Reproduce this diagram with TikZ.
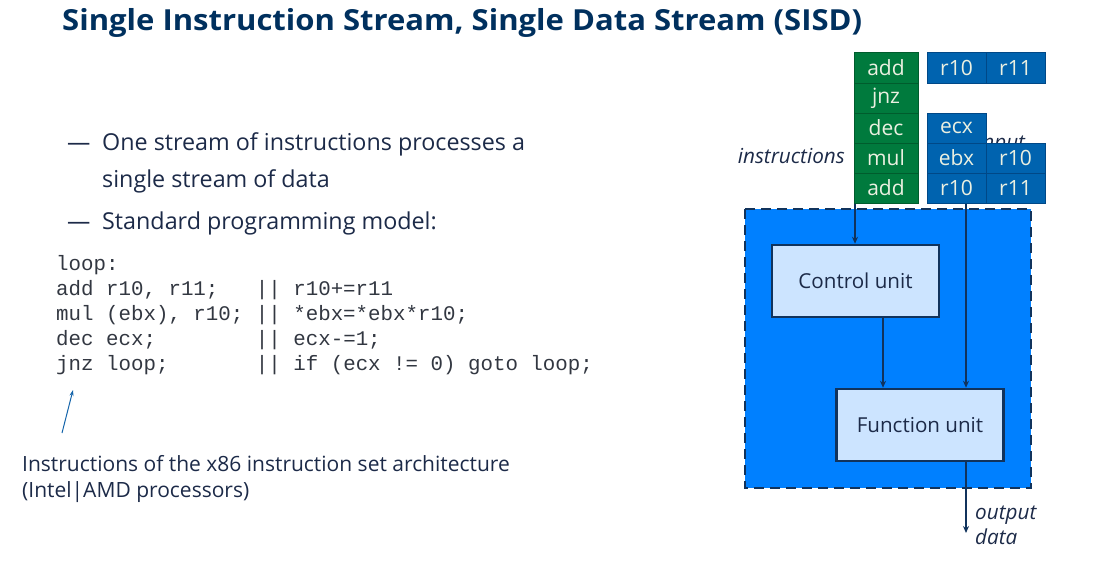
\documentclass[tikz,border=0pt]{standalone}
\usepackage{fontspec}
\setmainfont{Open Sans}
\setmonofont{Liberation Mono}
\usetikzlibrary{arrows.meta,calc}
\definecolor{navy}{RGB}{0,48,94}
\definecolor{ink}{RGB}{28,42,72}
\definecolor{codeink}{RGB}{50,55,65}
\definecolor{instgreen}{RGB}{0,122,61}
\definecolor{instedge}{RGB}{0,92,45}
\definecolor{regblue}{RGB}{0,99,175}
\definecolor{regedge}{RGB}{0,72,135}
\definecolor{cpublue}{RGB}{0,128,255}
\definecolor{unitfill}{RGB}{204,228,255}
\definecolor{lineblue}{RGB}{17,51,92}
\definecolor{notearrow}{RGB}{20,100,170}
\definecolor{celltext}{RGB}{235,240,225}
\tikzset{
  instcell/.style={draw=instedge, line width=1pt, fill=instgreen, minimum width=64pt, minimum height=30pt, inner sep=0pt, text=celltext, font=\fontsize{21}{22}\selectfont},
  regcell/.style={draw=regedge, line width=1pt, fill=regblue, minimum width=59pt, minimum height=30pt, inner sep=0pt, text=celltext, font=\fontsize{21}{22}\selectfont},
  unitbox/.style={draw=lineblue, line width=2.5pt, fill=unitfill, minimum width=167pt, minimum height=72pt, inner sep=0pt, text=ink, font=\fontsize{20.6}{22}\selectfont},
  flow/.style={draw=lineblue, line width=1.6pt, -{Stealth[length=7pt,width=6pt]}},
  bodytext/.style={text=ink, font=\fontsize{23.3}{26}\selectfont, anchor=base west, inner sep=0pt},
  notetext/.style={text=ink, font=\fontsize{21}{24}\selectfont, anchor=base west, inner sep=0pt},
  codetext/.style={text=codeink, font=\ttfamily\fontsize{20.8}{25}\selectfont, anchor=base west, inner sep=0pt},
  labeltext/.style={text=ink, font=\itshape\fontsize{20.7}{24}\selectfont, inner sep=0pt}
}
\begin{document}
\begin{tikzpicture}[x=1pt,y=-1pt]
\useasboundingbox (0,0) rectangle (1097,586);

% heading
\node[anchor=base west, inner sep=0pt, text=navy] (title) at (62,31)
  {\scalebox{1.07}[1]{\fontsize{29}{32}\selectfont\bfseries Single Instruction Stream, Single Data Stream (SISD)}};

% bullet points
\node[bodytext] (d1) at (67,150) {—};
\node[bodytext] (b1) at (102,150) {One stream of instructions processes a};
\node[bodytext] (b1b) at (102,187) {single stream of data};
\node[bodytext] (d2) at (67,229) {—};
\node[bodytext] (b2) at (102,229) {Standard programming model:};

% assembly listing
\node[codetext] (c0) at (56,270) {loop:};
\node[codetext] (c1) at (56,295) {add r10, r11;~~~|| r10+=r11};
\node[codetext] (c2) at (56,320) {mul (ebx), r10; || *ebx=*ebx*r10;};
\node[codetext] (c3) at (56,345) {dec ecx;~~~~~~~~|| ecx-=1;};
\node[codetext] (c4) at (56,370) {jnz loop;~~~~~~~|| if (ecx != 0) goto loop;};

% note on the listing
\node[notetext] (n1) at (22,471) {Instructions of the x86 instruction set architecture};
\node[notetext] (n2) at (22,497) {(Intel|AMD processors)};
\coordinate (nt) at (62,433);
\coordinate (nh) at (73,390);
\draw[notearrow, line width=1pt, -{Stealth[length=6pt,width=4pt]}] (nt) -- (nh);

% processor
\draw[draw=lineblue, fill=cpublue, line width=2.6pt, dash pattern=on 10pt off 6pt] (745,209) rectangle (1031,488);
\node[unitbox] (cu) at (855.5,281) {Control unit};
\node[unitbox] (fu) at (920,425) {Function unit};

% input label, partly covered by the data cells
\node[labeltext, anchor=base west] (inlbl) at (977,149) {input};

% instruction stream
\node[instcell] (g1) at (886,68) {add};
\node[instcell] (g2) at (886,98) {jnz};
\node[instcell] (g3) at (886,128) {dec};
\node[instcell] (g4) at (886,158) {mul};
\node[instcell] (g5) at (886,188) {add};
\node[labeltext, anchor=east] (ilbl) at (845,156) {instructions};

% data stream
\node[regcell] (d1a) at (956.5,68) {r10};
\node[regcell] (d1b) at (1015.5,68) {r11};
\node[regcell] (d3a) at (956.5,128) {ecx};
\node[regcell] (d4a) at (956.5,158) {ebx};
\node[regcell] (d4b) at (1015.5,158) {r10};
\node[regcell] (d5a) at (956.5,188) {r10};
\node[regcell] (d5b) at (1015.5,188) {r11};

% flows
\coordinate (ia) at ([xshift=1.5pt]g5.south west);
\draw[flow] (ia) -- (ia |- cu.north);
\coordinate (da) at ([xshift=9.5pt]d5a.south);
\draw[flow] (da) -- (da |- fu.north);
\coordinate (ca) at ([xshift=27.5pt]cu.south);
\draw[flow] (ca) -- (ca |- fu.north);
\coordinate (oa) at (da |- fu.south);
\coordinate (oe) at (966,533);
\draw[flow] (oa) -- (oe);
\node[labeltext, anchor=base west] (olbl) at (975,519) {output};
\node[labeltext, anchor=base west] (olbl2) at (975,544) {data};
\end{tikzpicture}
\end{document}
